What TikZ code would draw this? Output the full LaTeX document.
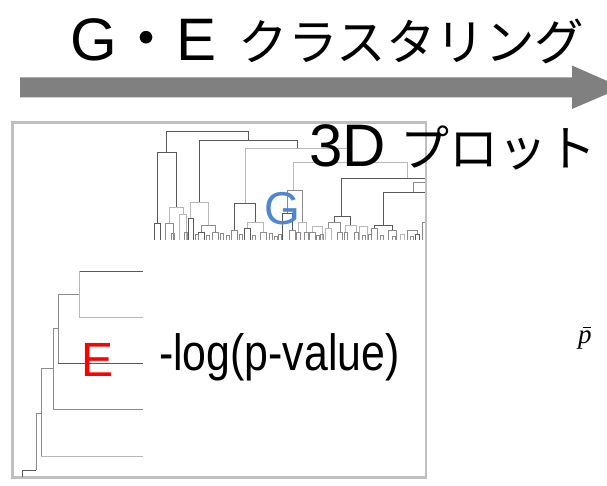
\documentclass[tikz,border=0pt]{standalone}
\usepackage{fontspec}
\usepackage{graphicx}
\newfontfamily\jpf{Noto Sans CJK JP}
\newfontfamily\arf{Liberation Sans}
\newfontfamily\serf{Liberation Serif}
\definecolor{arrowgray}{RGB}{128,128,128}
\definecolor{boxgray}{RGB}{192,192,192}
\definecolor{gblue}{RGB}{79,134,208}
\begin{document}
\begin{tikzpicture}[x=1pt,y=-1pt,
  dgdark/.style={draw=black!65,line width=0.9pt},
  dgmid/.style={draw=black!45,line width=0.9pt},
  dglight/.style={draw=black!28,line width=0.9pt},
  lbl/.style={inner sep=0pt,outer sep=0pt}]
\useasboundingbox (0,0) rectangle (607,486);

% big arrow
\coordinate (arrS) at (20,87.5);
\coordinate (arrE) at (622,87.5);
\fill[arrowgray] (arrS) ++(0,-10) -- ++(552,0) -- ++(0,-12) -- (arrE)
  -- ++(-50,21.5) -- ++(0,-11.5) -- ++(-552,0) -- cycle;

% title
\node[lbl, anchor=base west] (title) at (70,61)
  {\fontsize{60}{60}\selectfont\arf G\jpf ・\arf E\hspace{22pt}\fontsize{49.5}{49.5}\selectfont\jpf クラスタリング};

% panel
\node[draw=boxgray, line width=2.5pt, minimum width=413.5pt, minimum height=355pt,
  inner sep=0pt, outer sep=0pt] (panel) at (219.25,300) {};

% top dendrogram: main branches
\foreach \a/\b/\y/\p/\q/\s in {
  166/248/131/152/140/dgdark,
  157/176/152/223/207/dgdark,
  199/297/140/202/148/dgdark,
  245/350/148/203/162/dglight,
  293/407/162/190/178/dglight,
  154/160/223/240/240/dgdark,
  169/183/207/223/214/dglight,
  165/173/223/240/240/dgmid,
  179/186/214/240/240/dglight,
  190/208/202/218/225/dglight,
  188/193/218/240/240/dgdark,
  201/215/225/232/232/dgmid,
  198/204/232/240/240/dgdark,
  212/218/232/240/240/dgmid,
  234/255/203/230/222/dgdark,
  231/237/230/240/240/dgmid,
  247/263/222/228/232/dglight,
  244/250/228/240/240/dgdark,
  260/266/232/240/240/dgmid,
  287/302/190/213/222/dgmid,
  282/292/213/240/230/dgdark,
  289/295/230/240/240/dgmid,
  298/306/222/232/232/dglight,
  296/300/232/240/240/dgmid,
  304/308/232/240/240/dgmid,
  312/322/226/232/240/dglight,
  309/315/232/240/240/dgmid,
  334/350/216/222/225/dgdark,
  328/340/222/228/232/dgmid,
  325/331/228/240/240/dglight,
  337/342/232/240/240/dgmid,
  345/356/225/232/232/dglight,
  344/347/232/240/240/dgmid,
  354/358/232/240/240/dgmid,
  359/367/226/240/240/dglight,
  374/392/225/228/230/dgdark,
  371/377/228/240/240/dgmid,
  388/396/230/240/240/dgmid,
  400/404/234/240/240/dglight,
  407/417/230/240/234/dgmid,
  415/419/234/240/240/dgdark}
  \draw[\s] (\a,\p) -- (\a,\y) -- (\b,\y) -- (\b,\q);
\draw[dgdark] (341,216) -- (341,178) -- (425,178);
\draw[dgmid] (413,192) -- (413,182) -- (425,182);
\draw[dgdark] (383,225) -- (383,192) -- (425,192);
\draw[dgmid] (422,240) -- (422,222) -- (425,222);
% tiny leaf pairs
\foreach \x/\y in {171/233,184/232,195/234,206/235,220/233,226/235,239/234,252/235,
  269/233,274/236,278/234,316/235,320/234,362/235,368/234,380/235,392/236,410/236}
  \draw[dgmid] (\x,240) -- (\x,\y) -- (\x+3,\y) -- (\x+3,240);

% left dendrogram
\draw[dgdark] (79,271) -- (143,271);
\draw[dglight] (79,317) -- (143,317);
\draw[dgdark] (58,363) -- (143,363);
\draw[dgmid] (53,409) -- (143,409);
\draw[dglight] (41,456) -- (143,456);
\draw[dglight] (79,271) -- (79,317);
\draw[dgmid] (79,294) -- (58,294) -- (58,363);
\draw[dgmid] (58,328) -- (53,328) -- (53,409);
\draw[dgmid] (53,368) -- (41,368) -- (41,456);
\draw[dgmid] (41,413) -- (36,413) -- (36,470);
\draw[dgdark] (36,470) -- (22,470) -- (22,477);

% labels
\node[lbl, anchor=base west] (gl) at (264.7,225)
  {\fontsize{46}{46}\selectfont\arf\color{gblue}G};
\node[lbl, anchor=base west] (el) at (81,376)
  {\fontsize{48}{48}\selectfont\arf\color{red}E};
\node[lbl, anchor=base west] (logp) at (159,370)
  {\fontsize{51}{51}\selectfont\arf\scalebox{0.84}[1]{-log(p-value)}};
\node[lbl, anchor=base west] (plot) at (309.5,167)
  {\fontsize{60}{60}\selectfont\arf 3D\hspace{14pt}\fontsize{49}{49}\selectfont\jpf プロット};
\node[lbl, anchor=base west] (pbar) at (578,343)
  {\fontsize{27}{27}\selectfont\serf\itshape p\llap{\raisebox{15pt}{\rule{8.5pt}{1.1pt}}\hspace{0.5pt}}};
\end{tikzpicture}
\end{document}
